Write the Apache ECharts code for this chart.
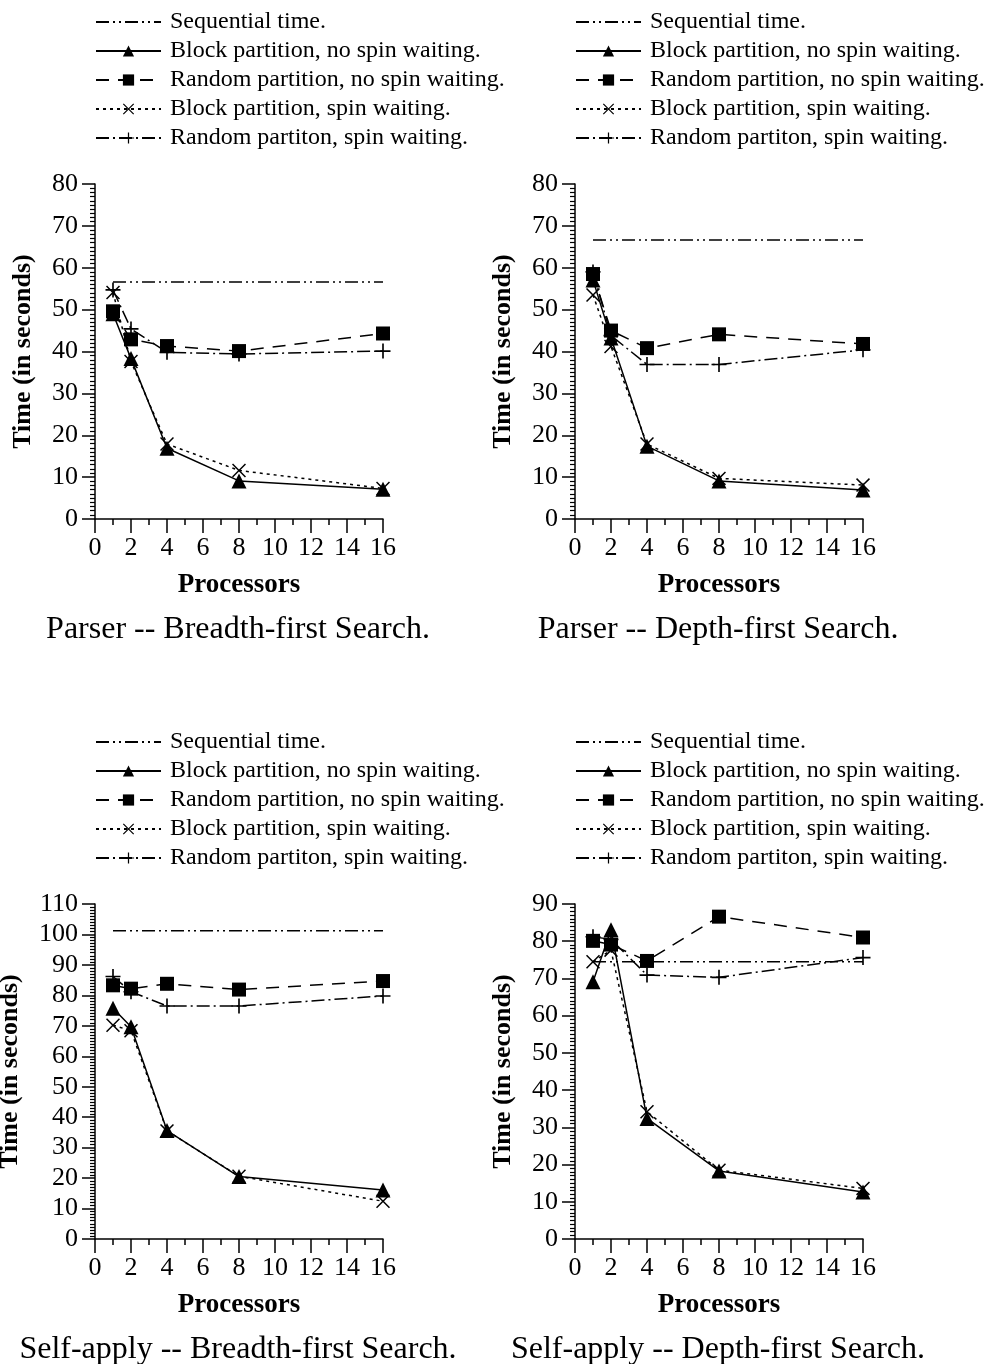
<!DOCTYPE html>
<html>
<head>
<meta charset="utf-8">
<script src="https://cdn.jsdelivr.net/npm/echarts@6/dist/echarts.min.js"></script>
<style>
html,body{margin:0;padding:0;background:#fff;}
#chart{width:987px;height:1364px;}
</style>
</head>
<body>
<div id="chart"></div>
<script>
// ---- data ----
const processors = [1, 2, 4, 8, 16];
const seriesNames = [
  'Sequential time.',
  'Block partition, no spin waiting.',
  'Random partition, no spin waiting.',
  'Block partition, spin waiting.',
  'Random partiton, spin waiting.'
];
const chartTitles = [
  'Parser -- Breadth-first Search.',
  'Parser -- Depth-first Search.',
  'Self-apply -- Breadth-first Search.',
  'Self-apply -- Depth-first Search.'
];
const yMaxes = [80, 80, 110, 90];

// Parser -- Breadth-first
const pbSeq = 56.6;
const pbBlockNoSpin = [49.0, 38.3, 16.9, 9.1, 7.1];
const pbRandomNoSpin = [49.6, 42.9, 41.3, 40.1, 44.3];
const pbBlockSpin = [54.1, 37.6, 17.9, 11.6, 7.3];
const pbRandomSpin = [54.7, 45.4, 39.8, 39.4, 40.1];
// Parser -- Depth-first
const pdSeq = 66.6;
const pdBlockNoSpin = [57.1, 43.2, 17.4, 9.1, 6.9];
const pdRandomNoSpin = [58.5, 45.0, 40.8, 44.1, 41.8];
const pdBlockSpin = [53.5, 41.2, 17.9, 9.7, 8.1];
const pdRandomSpin = [59.0, 43.8, 36.9, 36.9, 40.4];
// Self-apply -- Breadth-first
const sbSeq = 101.2;
const sbBlockNoSpin = [75.8, 69.7, 35.6, 20.5, 16.1];
const sbRandomNoSpin = [83.3, 82.2, 83.8, 81.9, 84.7];
const sbBlockSpin = [70.2, 68.4, 35.5, 20.6, 12.4];
const sbRandomSpin = [86.2, 81.2, 76.5, 76.5, 79.8];
// Self-apply -- Depth-first
const sdSeq = 74.5;
const sdBlockNoSpin = [69.1, 83.1, 32.4, 18.3, 12.6];
const sdRandomNoSpin = [80.1, 79.1, 74.7, 86.6, 81.0];
const sdBlockSpin = [74.5, 77.6, 34.2, 18.5, 13.6];
const sdRandomSpin = [81.2, 80.5, 70.9, 70.3, 75.6];

const panels = [
  [pbSeq, pbBlockNoSpin, pbRandomNoSpin, pbBlockSpin, pbRandomSpin],
  [pdSeq, pdBlockNoSpin, pdRandomNoSpin, pdBlockSpin, pdRandomSpin],
  [sbSeq, sbBlockNoSpin, sbRandomNoSpin, sbBlockSpin, sbRandomSpin],
  [sdSeq, sdBlockNoSpin, sdRandomNoSpin, sdBlockSpin, sdRandomSpin]
];

// ---- styling ----
const FONT = '"Liberation Serif", "Times New Roman", serif';
const PLUS = 'path://M4.45,0H5.55V4.45H10V5.55H5.55V10H4.45V5.55H0V4.45H4.45Z';
const CROSS = 'path://M0,0.75L0.75,0L5,4.25L9.25,0L10,0.75L5.75,5L10,9.25L9.25,10L5,5.75L0.75,10L0,9.25L4.25,5Z';
const styles = [
  {type: [13, 4, 2, 4, 2, 4], symbol: 'none', size: 0},
  {type: 'solid', symbol: 'triangle', size: 15},
  {type: [13, 9], symbol: 'rect', size: 14},
  {type: [3, 4], symbol: CROSS, size: 14},
  {type: [13, 4, 2, 4], symbol: PLUS, size: 15}
];

const gridLefts = [95, 575, 95, 575];
const gridTops = [184, 184, 904, 904];
const yNameGaps = [59, 59, 72, 59];
const GW = 288, GH = 335;

const grids = [], xAxes = [], yAxes = [], series = [], titles = [], legends = [];
for (let i = 0; i < 4; i++) {
  grids.push({left: gridLefts[i], top: gridTops[i], width: GW, height: GH,
    containLabel: false, outerBoundsMode: 'none'});
  xAxes.push({
    type: 'value', gridIndex: i, min: 0, max: 16, interval: 2,
    name: 'Processors', nameLocation: 'middle', nameGap: 53,
    nameTextStyle: {fontFamily: FONT, fontWeight: 'bold', fontSize: 27, color: '#000'},
    axisLine: {show: true, onZero: false, lineStyle: {color: '#000', width: 1.5}},
    axisTick: {show: true, length: 14, lineStyle: {color: '#000', width: 1.5}},
    minorTick: {show: true, splitNumber: 2, length: 6, lineStyle: {color: '#000', width: 1.5}},
    axisLabel: {fontFamily: FONT, fontSize: 26, color: '#000', margin: 16},
    splitLine: {show: false}, minorSplitLine: {show: false}
  });
  yAxes.push({
    type: 'value', gridIndex: i, min: 0, max: yMaxes[i], interval: 10,
    name: 'Time (in seconds)', nameLocation: 'middle', nameGap: yNameGaps[i],
    nameTextStyle: {fontFamily: FONT, fontWeight: 'bold', fontSize: 26, color: '#000'},
    axisLine: {show: true, onZero: false, lineStyle: {color: '#000', width: 1.5}},
    axisTick: {show: true, length: 13, lineStyle: {color: '#000', width: 1.5}},
    minorTick: {show: true, splitNumber: 10, length: 5, lineStyle: {color: '#000', width: 1.2}},
    axisLabel: {fontFamily: FONT, fontSize: 26, color: '#000', margin: 17},
    splitLine: {show: false}, minorSplitLine: {show: false}
  });
  const d = panels[i];
  for (let s = 0; s < 5; s++) {
    const st = styles[s];
    let data;
    if (s === 0) {
      data = [[processors[0], d[0]], [processors[processors.length - 1], d[0]]];
    } else {
      data = processors.map((p, k) => [p, d[s][k]]);
    }
    series.push({
      type: 'line', name: seriesNames[s], xAxisIndex: i, yAxisIndex: i,
      data: data,
      symbol: st.symbol, symbolSize: st.size, showSymbol: s !== 0,
      lineStyle: {color: '#000', width: 1.5, type: st.type},
      itemStyle: {color: '#000', borderWidth: 0},
      animation: false, silent: true, z: 10 - s
    });
  }
  titles.push({
    text: chartTitles[i], left: gridLefts[i] + GW / 2 - 6, textAlign: 'center',
    top: gridTops[i] + 425,
    textStyle: {fontFamily: FONT, fontWeight: 'normal', fontSize: 32, color: '#000'}
  });
  legends.push({
    data: seriesNames.map((n, k) => k === 0 ? {name: n, itemStyle: {opacity: 0}} : {name: n}),
    orient: 'vertical', padding: 0,
    left: gridLefts[i], top: gridTops[i] - 174,
    itemWidth: 65, itemHeight: 14, itemGap: 5,
    selectedMode: false,
    textStyle: {fontFamily: FONT, fontSize: 24, color: '#000', padding: [0, 0, 0, 4]}
  });
}

const chart = echarts.init(document.getElementById('chart'), null, {renderer: 'canvas'});
chart.setOption({
  backgroundColor: '#fff',
  animation: false,
  color: ['#000'],
  title: titles,
  legend: legends,
  grid: grids,
  xAxis: xAxes,
  yAxis: yAxes,
  series: series
});
</script>
</body>
</html>
